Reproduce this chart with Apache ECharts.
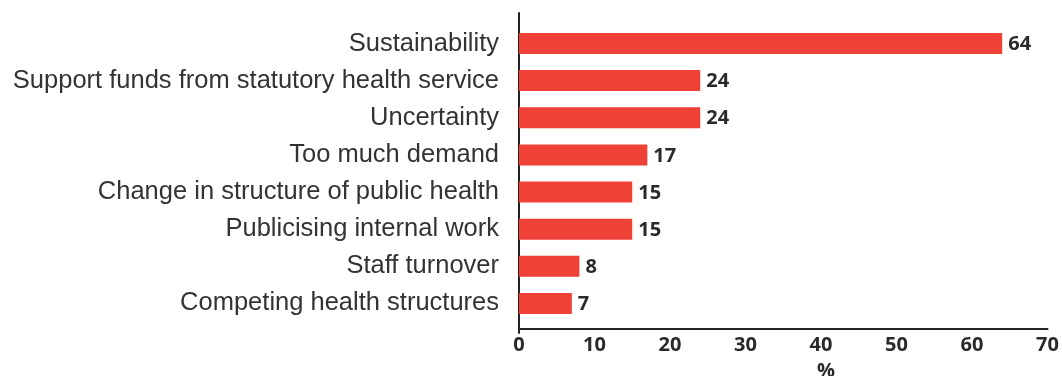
<!DOCTYPE html>
<html>
<head>
<meta charset="utf-8">
<script src="https://cdn.jsdelivr.net/npm/echarts@6/dist/echarts.min.js"></script>
<style>
  html, body { margin: 0; padding: 0; background: #fff; }
  #chart { width: 1062px; height: 376px; }
</style>
</head>
<body>
<div id="chart"></div>
<script>
// data
const categories = [
  'Sustainability',
  'Support funds from statutory health service',
  'Uncertainty',
  'Too much demand',
  'Change in structure of public health',
  'Publicising internal work',
  'Staff turnover',
  'Competing health structures'
];
const values = [64, 24, 24, 17, 15, 15, 8, 7];
const xTicks = [0, 10, 20, 30, 40, 50, 60, 70];

const chart = echarts.init(document.getElementById('chart'));

const left = 519;
const right = 14.5;
const numFont = { fontFamily: 'Open Sans', fontWeight: 'bold', fontSize: 20, color: '#2a2a2a' };

const option = {
  animation: false,
  title: {
    text: '%',
    left: 812,
    top: 356,
    textStyle: numFont
  },
  // grid 0: bars, grid 1: x axis, grid 2: y axis line (runs a little past the x axis)
  grid: [
    { left: left, right: right, top: 24.9, height: 297.1 },
    { left: left, right: right, top: 13, bottom: 47 },
    { left: left, right: right, top: 13, height: 320 }
  ],
  xAxis: [
    { gridIndex: 0, type: 'value', min: 0, max: 70, interval: 10, show: false },
    {
      gridIndex: 1, type: 'value', min: xTicks[0], max: xTicks[xTicks.length - 1], interval: 10,
      axisLine: { show: true, lineStyle: { color: '#222', width: 2 } },
      axisTick: { show: false },
      splitLine: { show: false },
      axisLabel: Object.assign({ margin: 6 }, numFont)
    },
    { gridIndex: 2, type: 'value', min: 0, max: 70, show: false }
  ],
  yAxis: [
    {
      gridIndex: 0, type: 'category', data: categories, inverse: true,
      axisLine: { show: false },
      axisTick: { show: false },
      axisLabel: {
        margin: 20,
        padding: [6, 0, 0, 0],
        fontFamily: 'Liberation Sans', fontSize: 25.5, color: '#333'
      }
    },
    { gridIndex: 1, type: 'value', min: 0, max: 1, show: false },
    {
      gridIndex: 2, type: 'value', min: 0, max: 1,
      axisLine: { show: true, onZero: false, lineStyle: { color: '#222', width: 2 } },
      axisTick: { show: false },
      axisLabel: { show: false },
      splitLine: { show: false }
    }
  ],
  series: [
    {
      type: 'bar',
      xAxisIndex: 0,
      yAxisIndex: 0,
      data: values,
      barWidth: 21,
      itemStyle: { color: '#EF4136' },
      label: Object.assign({
        show: true,
        position: 'right',
        distance: 6,
        offset: [0, 1]
      }, numFont)
    }
  ]
};

chart.setOption(option);
</script>
</body>
</html>
